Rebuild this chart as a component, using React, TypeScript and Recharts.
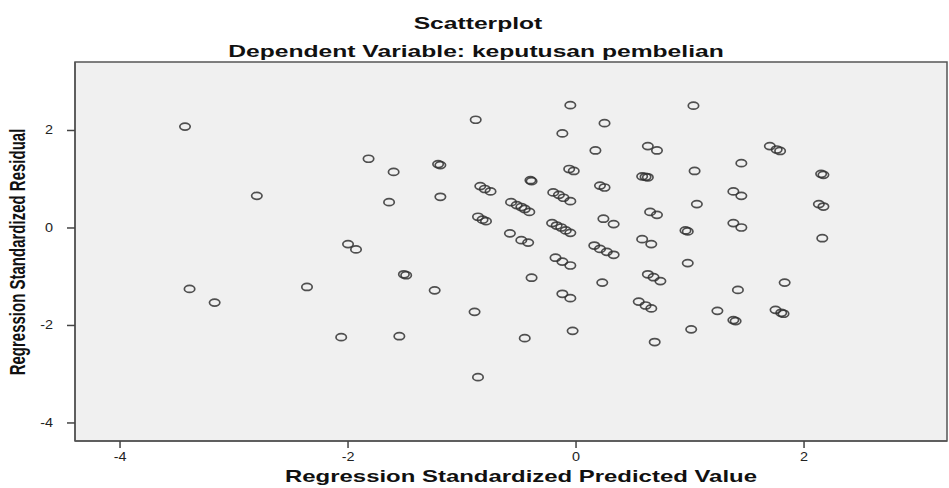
import React from "react";
import { ScatterChart, Scatter, XAxis, YAxis, ReferenceArea } from "recharts";

const predicted = [
  -3.43, -2.80, -2.00, -1.93, -3.39, -3.17, -2.36, -2.06, -1.82, -1.60,
  -1.64, -1.21, -1.19, -1.19, -0.88, -0.84, -0.80, -0.75, -0.40, -0.39,
  -0.86, -0.82, -0.79, -0.58, -0.57, -0.52, -0.48, -0.45, -0.41, -0.48,
  -0.42, -0.20, -0.15, -0.11, -0.05, -0.21, -0.17, -0.13, -0.09, -0.05,
  -0.18, -0.12, -0.05, -0.05, -0.12, 0.25, 0.17, -0.06, -0.02, 0.21,
  0.25, 0.24, 0.33, 0.16, 0.21, 0.27, 0.33, -1.51, -1.49, -1.24,
  -0.89, -1.55, -0.86, -0.45, -0.39, -0.12, -0.05, -0.03, 0.23, 1.03,
  0.63, 0.71, 0.58, 0.61, 0.63, 1.04, 1.45, 1.70, 1.76, 1.79,
  2.15, 2.17, 0.65, 0.71, 1.06, 1.38, 1.45, 2.13, 2.17, 0.58,
  0.66, 0.96, 0.98, 1.38, 1.45, 2.16, 0.98, 0.63, 0.68, 0.74,
  0.55, 0.61, 0.66, 1.42, 1.83, 1.24, 1.38, 1.40, 1.75, 1.80,
  1.82, 1.01, 0.69,
];

const residual = [
  2.08, 0.66, -0.33, -0.44, -1.25, -1.53, -1.21, -2.24, 1.42, 1.15,
  0.53, 1.31, 1.29, 0.64, 2.22, 0.86, 0.80, 0.75, 0.98, 0.96,
  0.23, 0.17, 0.14, -0.11, 0.53, 0.47, 0.43, 0.39, 0.33, -0.25,
  -0.30, 0.73, 0.68, 0.62, 0.55, 0.10, 0.05, 0.01, -0.05, -0.10,
  -0.61, -0.69, -0.77, 2.52, 1.94, 2.15, 1.59, 1.21, 1.17, 0.87,
  0.83, 0.19, 0.08, -0.36, -0.43, -0.49, -0.55, -0.95, -0.97, -1.28,
  -1.72, -2.22, -3.06, -2.26, -1.02, -1.35, -1.44, -2.11, -1.12, 2.51,
  1.68, 1.59, 1.06, 1.05, 1.04, 1.17, 1.33, 1.68, 1.61, 1.58,
  1.11, 1.09, 0.33, 0.27, 0.49, 0.75, 0.66, 0.49, 0.44, -0.23,
  -0.33, -0.05, -0.07, 0.10, 0.01, -0.21, -0.72, -0.95, -1.01, -1.09,
  -1.51, -1.59, -1.65, -1.27, -1.12, -1.70, -1.89, -1.91, -1.68, -1.74,
  -1.76, -2.08, -2.34,
];

const xTicks = [-4, -2, 0, 2];
const yTicks = [-4, -2, 0, 2];

const X_DOMAIN: [number, number] = [-4.395, 3.254];
const Y_DOMAIN: [number, number] = [-4.37, 3.405];

const title = "Scatterplot";
const subtitle = "Dependent Variable: keputusan pembelian";
const xTitle = "Regression Standardized Predicted Value";
const yTitle = "Regression Standardized Residual";

const data = predicted.map((x, i) => ({ x, y: residual[i] }));

const FONT = "'Liberation Sans', Arial, sans-serif";
const STRETCH = 1.45;

const renderEllipse = (props: any) => {
  const { cx, cy } = props;
  return (
    <ellipse
      cx={cx}
      cy={cy}
      rx={5.2}
      ry={3.5}
      fill="none"
      stroke="#333"
      strokeOpacity={0.85}
      strokeWidth={1.7}
    />
  );
};

const XTick = (props: any) => {
  const { x, y, payload } = props;
  return (
    <text
      transform={`translate(${x},${y + 11}) scale(1.2,1)`}
      textAnchor="middle"
      fontFamily={FONT}
      fontSize={12}
      fill="#222"
    >
      {payload.value}
    </text>
  );
};

const YTick = (props: any) => {
  const { x, y, payload } = props;
  return (
    <text
      transform={`translate(${x - 12},${y + 4}) scale(1.2,1)`}
      textAnchor="end"
      fontFamily={FONT}
      fontSize={12}
      fill="#222"
    >
      {payload.value}
    </text>
  );
};

export default function App() {
  return (
    <div
      style={{
        position: "absolute",
        left: 0,
        top: 0,
        width: 949,
        height: 488,
        background: "#fff",
      }}
    >
      <ScatterChart
        width={949}
        height={488}
        margin={{ top: 62, right: 2, bottom: 0, left: 0 }}
      >
        <XAxis
          type="number"
          dataKey="x"
          domain={X_DOMAIN}
          ticks={xTicks}
          allowDataOverflow
          height={47}
          axisLine={{ stroke: "#555", strokeWidth: 1.5 }}
          tickLine={{ stroke: "#444", strokeWidth: 1.5 }}
          tickSize={7}
          tick={<XTick />}
        />
        <YAxis
          type="number"
          dataKey="y"
          domain={Y_DOMAIN}
          ticks={yTicks}
          allowDataOverflow
          width={75}
          axisLine={{ stroke: "#555", strokeWidth: 1.5 }}
          tickLine={{ stroke: "#444", strokeWidth: 1.5 }}
          tickSize={8}
          tick={<YTick />}
        />
        <ReferenceArea
          x1={X_DOMAIN[0]}
          x2={X_DOMAIN[1]}
          y1={Y_DOMAIN[0]}
          y2={Y_DOMAIN[1]}
          fill="#f0f0f0"
          fillOpacity={1}
          stroke="#555"
          strokeWidth={1.5}
        />
        <Scatter data={data} shape={renderEllipse} isAnimationActive={false} />
      </ScatterChart>
      <svg
        width={949}
        height={488}
        style={{ position: "absolute", left: 0, top: 0, pointerEvents: "none" }}
      >
        <text
          transform={`translate(478,29) scale(${STRETCH},1)`}
          textAnchor="middle"
          fontFamily={FONT}
          fontWeight="bold"
          fontSize={17}
          fill="#111"
        >
          {title}
        </text>
        <text
          transform={`translate(476,57) scale(${STRETCH},1)`}
          textAnchor="middle"
          fontFamily={FONT}
          fontWeight="bold"
          fontSize={17}
          fill="#111"
        >
          {subtitle}
        </text>
        <text
          transform={`translate(521,482) scale(${STRETCH},1)`}
          textAnchor="middle"
          fontFamily={FONT}
          fontWeight="bold"
          fontSize={16.5}
          fill="#111"
        >
          {xTitle}
        </text>
        <text
          transform={`translate(25,252) scale(${STRETCH},1) rotate(-90)`}
          textAnchor="middle"
          fontFamily={FONT}
          fontWeight="bold"
          fontSize={15}
          fill="#111"
        >
          {yTitle}
        </text>
      </svg>
    </div>
  );
}
